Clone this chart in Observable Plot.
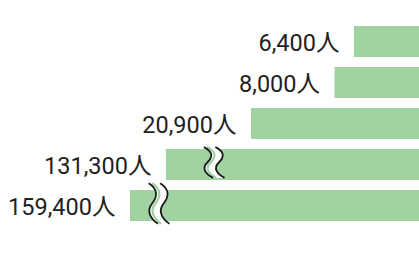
<!DOCTYPE html>
<html>
<head>
<meta charset="utf-8">
<script src="https://cdn.jsdelivr.net/npm/d3@7"></script>
<script src="https://cdn.jsdelivr.net/npm/@observablehq/plot@0.6"></script>
<style>
  html, body { margin: 0; padding: 0; background: #fff; }
</style>
</head>
<body>
<div id="chart"></div>
<script>
// Data
const labels = ["6,400人", "8,000人", "20,900人", "131,300人", "159,400人"];
const values = [6400, 8000, 20900, 131300, 159400];
// Drawn length of each bar on the (log) axis; the last two are cut by an axis break
const barLength = [6400, 8000, 20900, 55500, 83900];
// Where the axis-break marks sit on the broken bars (axis units)
const breakAt = [null, null, null, 32300, 60900];

const axisStart = 3030;
const axisEnd = 373700;

const data = labels.map((label, i) => ({
  label, value: values[i], len: barLength[i], brk: breakAt[i]
}));

const green = "#a1d2a1";

function breakMarks(index, scales) {
  const ns = "http://www.w3.org/2000/svg";
  const g = document.createElementNS(ns, "g");
  data.forEach((d, i) => {
    if (d.brk == null) return;
    const cx = scales.x(d.brk);
    const cy = scales.y(d.label) + scales.y.bandwidth() / 2 - 2;
    const s = i === 4 ? 1.45 : 1.1; // second break drawn taller
    const wave = (ox) =>
      `M ${ox - 8} ${-14} C ${ox - 0} ${-10} ${ox - 0} ${-5} ${ox - 5} ${0} S ${ox - 7} ${10} ${ox + 0} ${14}`;
    const rev = (ox) =>
      `L ${ox + 0} ${14} C ${ox - 7} ${10} ${ox - 10} ${5} ${ox - 5} ${0} C ${ox - 0} ${-5} ${ox - 0} ${-10} ${ox - 8} ${-14} Z`;
    const grp = document.createElementNS(ns, "g");
    grp.setAttribute("transform", `translate(${cx},${cy}) scale(1.15,${s})`);
    const fill = document.createElementNS(ns, "path");
    fill.setAttribute("d", wave(0) + " " + rev(10));
    fill.setAttribute("fill", "#fff");
    fill.setAttribute("stroke", "none");
    grp.appendChild(fill);
    const sliver = document.createElementNS(ns, "path");
    sliver.setAttribute("d", wave(2.8));
    sliver.setAttribute("fill", "none");
    sliver.setAttribute("stroke", green);
    sliver.setAttribute("stroke-width", 2.2);
    sliver.setAttribute("vector-effect", "non-scaling-stroke");
    grp.appendChild(sliver);
    for (const ox of [0, 10]) {
      const p = document.createElementNS(ns, "path");
      p.setAttribute("d", wave(ox));
      p.setAttribute("fill", "none");
      p.setAttribute("stroke", "#1a1a1a");
      p.setAttribute("stroke-width", 1.8);
      p.setAttribute("vector-effect", "non-scaling-stroke");
      grp.appendChild(p);
    }
    g.appendChild(grp);
  });
  return g;
}

const chart = Plot.plot({
  width: 419,
  height: 255,
  marginTop: 0, marginRight: 0, marginBottom: 0, marginLeft: 0,
  x: { type: "log", domain: [axisStart, axisEnd], range: [419, 0], axis: null },
  y: { domain: labels, range: [25, 222.7], paddingInner: 0.24, paddingOuter: 0, axis: null },
  style: { fontFamily: "Roboto, 'Noto Sans CJK JP', sans-serif", background: "#fff" },
  marks: [
    Plot.barX(data, { x1: () => axisStart, x2: "len", y: "label", fill: green }),
    breakMarks,
    Plot.text(data, {
      x: "len", y: "label", text: "label",
      textAnchor: "end", dx: -15, dy: 1,
      fontSize: 23.5, fill: "#231f20",
      fontFamily: "Roboto, 'Noto Sans CJK JP', sans-serif"
    })
  ]
});

document.getElementById("chart").appendChild(chart);
</script>
</body>
</html>
